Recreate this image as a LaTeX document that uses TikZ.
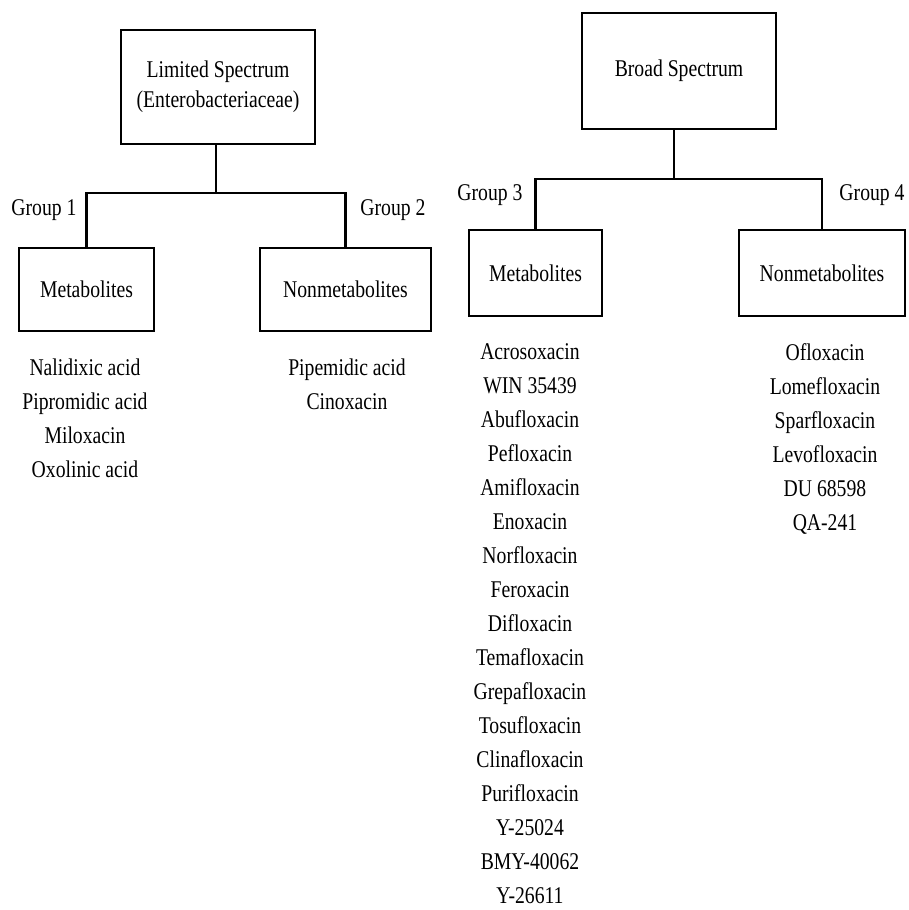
\documentclass[tikz,border=0pt]{standalone}
\usepackage{fontspec}
\setmainfont[FakeStretch=0.82]{Liberation Serif}
\usepackage{tikz}
\tikzstyle{catbox}=[draw,line width=2.2pt,align=center,inner sep=0pt,font=\fontsize{24}{30}\selectfont]
\tikzstyle{grp}=[font=\fontsize{24}{30}\selectfont,inner sep=0pt]
\tikzstyle{drugs}=[align=center,anchor=north,inner sep=0pt,font=\fontsize{24}{34}\selectfont]
\tikzstyle{link}=[line width=2.2pt]

\begin{document}
\begin{tikzpicture}[x=1pt,y=-1pt]
  \useasboundingbox (0,0) rectangle (909,910);
  % limited spectrum
  \node[catbox,minimum width=194pt,minimum height=114pt] (lim) at (218,87) {Limited Spectrum\\(Enterobacteriaceae)};
  \node[catbox,minimum width=135pt,minimum height=83pt] (met1) at (86.5,289.5) {Metabolites};
  \node[catbox,minimum width=171pt,minimum height=83pt] (non2) at (345.5,289.5) {Nonmetabolites};
  \coordinate (j1) at (216,193);
  \draw[link] (lim.south -| j1) -- (j1);
  \draw[link] (j1) -| (met1.north);
  \draw[link] (j1) -| (non2.north);
  \node[grp] (g1) at (44,210) {Group 1};
  \node[grp] (g2) at (393,210) {Group 2};
  % broad spectrum
  \node[catbox,minimum width=194pt,minimum height=116pt] (brd) at (679,71) {Broad Spectrum};
  \node[catbox,minimum width=133pt,minimum height=86pt] (met3) at (535.5,273) {Metabolites};
  \node[catbox,minimum width=166pt,minimum height=86pt] (non4) at (822,273) {Nonmetabolites};
  \coordinate (j2) at (674,179);
  \draw[link] (brd.south -| j2) -- (j2);
  \draw[link] (j2) -| (met3.north);
  \draw[link] (j2) -| (non4.north);
  \node[grp] (g3) at (490,195) {Group 3};
  \node[grp] (g4) at (872,195) {Group 4};
  % drug lists
  \node[drugs] (l1) at (85,359) {Nalidixic acid\\Pipromidic acid\\Miloxacin\\Oxolinic acid};
  \node[drugs] (l2) at (347,359) {Pipemidic acid\\Cinoxacin};
  \node[drugs] (l3) at (530,343) {Acrosoxacin\\WIN 35439\\Abufloxacin\\Pefloxacin\\Amifloxacin\\Enoxacin\\Norfloxacin\\Feroxacin\\Difloxacin\\Temafloxacin\\Grepafloxacin\\Tosufloxacin\\Clinafloxacin\\Purifloxacin\\Y-25024\\BMY-40062\\Y-26611};
  \node[drugs] (l4) at (825,343) {Ofloxacin\\Lomefloxacin\\Sparfloxacin\\Levofloxacin\\DU 68598\\QA-241};
\end{tikzpicture}
\end{document}
